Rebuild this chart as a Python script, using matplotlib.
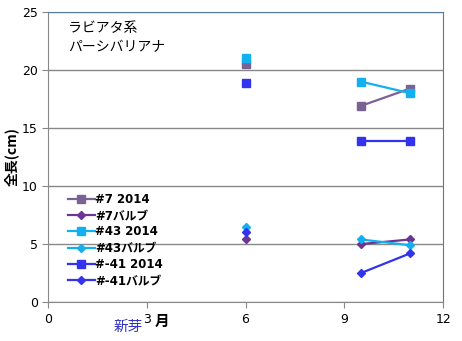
import matplotlib
matplotlib.use("Agg")
import matplotlib.pyplot as plt
import numpy as np

plt.rcParams["font.family"] = ["DejaVu Sans", "Noto Sans CJK JP"]

# measurement months (July is an empty row, so lines break there)
months = [6, 7, 9.5, 11]

n7_2014 = [20.5, np.nan, 16.9, 18.4]
n7_bulb = [5.4, np.nan, 5.0, 5.4]
n43_2014 = [21.0, np.nan, 19.0, 18.0]
n43_bulb = [6.5, np.nan, 5.4, 4.9]
n41_2014 = [18.9, np.nan, 13.9, 13.9]
n41_bulb = [6.0, np.nan, 2.5, 4.2]

labels = ["#7 2014", "#7バルブ", "#43 2014", "#43バルブ", "#-41 2014", "#-41バルブ"]
xticks = [0, 3, 6, 9, 12]
yticks = [0, 5, 10, 15, 20, 25]

series = [
    (n7_2014, "s", "#7a6394", 6),
    (n7_bulb, "D", "#6a3594", 4),
    (n43_2014, "s", "#12b0ee", 6),
    (n43_bulb, "D", "#12b0ee", 4.5),
    (n41_2014, "s", "#3333ee", 6),
    (n41_bulb, "D", "#3333ee", 4),
]

fig = plt.figure(figsize=(4.62, 3.41), dpi=100)
ax = fig.add_axes([0.104, 0.114, 0.855, 0.851])

for (vals, mk, col, ms), lab in zip(series, labels):
    ax.plot(months, vals, marker=mk, color=col, markersize=ms,
            linewidth=1.6, label=lab)

ax.set_xlim(0, 12)
ax.set_ylim(0, 25)
ax.set_xticks(xticks)
ax.set_yticks(yticks)
ax.tick_params(labelsize=9, length=4, color="#888888")
ax.yaxis.grid(True, color="#888888", linewidth=1)
ax.set_axisbelow(True)
for side in ["left", "bottom"]:
    ax.spines[side].set_color("#888888")
for side in ["top", "right"]:
    ax.spines[side].set_color("#5a7a9a")

ax.set_ylabel("全長(cm)", fontsize=10, fontweight="bold",
              family=["Noto Sans CJK JP", "DejaVu Sans"], labelpad=2)

ax.text(0.05, 0.97, "ラビアタ系\nパーシバリアナ", transform=ax.transAxes,
        fontsize=10, va="top", linespacing=1.45,
        family=["Noto Sans CJK JP", "DejaVu Sans"])

leg = ax.legend(loc="upper left", bbox_to_anchor=(0.035, 0.397),
                frameon=False, handlelength=2.3,
                handletextpad=0.0, labelspacing=0.28, borderpad=0,
                prop={"family": ["DejaVu Sans", "Noto Sans CJK JP"],
                      "weight": "bold", "size": 8.5})

fig.text(128 / 462, 1 - 327 / 341, "新芽", color="#3333bb", fontsize=10.5,
         ha="center", va="center", family=["Noto Sans CJK JP"])
fig.text(162 / 462, 1 - 321 / 341, "月", fontsize=10.5, fontweight="bold",
         ha="center", va="center", family=["Noto Sans CJK JP"])

fig.savefig("out.png", dpi=100)
